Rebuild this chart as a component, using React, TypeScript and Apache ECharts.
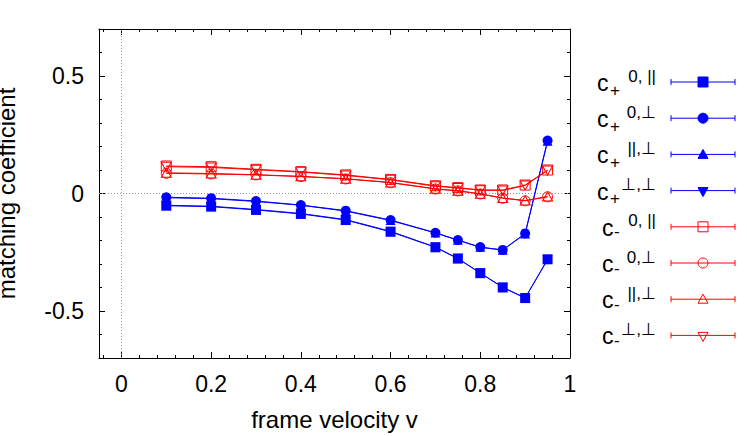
import React, { useEffect, useRef } from "react";
import * as echarts from "echarts";

// ---- data ----
const velocities = [0.1, 0.2, 0.3, 0.4, 0.5, 0.6, 0.7, 0.75, 0.8, 0.85, 0.9, 0.95];
const cPlus0Par = [-0.052, -0.056, -0.07, -0.087, -0.113, -0.163, -0.229, -0.277, -0.339, -0.4, -0.445, -0.28];
const cPlus0Perp = [-0.016, -0.02, -0.032, -0.049, -0.073, -0.113, -0.167, -0.198, -0.228, -0.24, -0.17, 0.225];
const cPlusParPerp = [-0.018, -0.022, -0.034, -0.05, -0.075, -0.115, -0.168, -0.199, -0.229, -0.241, -0.172, 0.222];
const cPlusPerpPerp = [-0.05, -0.054, -0.068, -0.085, -0.111, -0.161, -0.228, -0.276, -0.338, -0.399, -0.444, -0.282];
const cMinus0Par = [0.117, 0.114, 0.103, 0.093, 0.079, 0.06, 0.033, 0.025, 0.015, 0.015, 0.036, 0.1];
const cMinus0Perp = [0.086, 0.083, 0.079, 0.072, 0.062, 0.046, 0.019, 0.011, -0.002, -0.02, -0.031, -0.014];
const cMinusParPerp = [0.088, 0.085, 0.08, 0.073, 0.063, 0.047, 0.02, 0.012, -0.001, -0.019, -0.03, -0.013];
const cMinusPerpPerp = [0.114, 0.111, 0.101, 0.091, 0.077, 0.058, 0.031, 0.023, 0.014, 0.013, 0.034, 0.098];

const xMajorTicks = [0, 0.2, 0.4, 0.6, 0.8, 1];
const xMinorTicks = [-0.04, 0.04, 0.08, 0.12, 0.16, 0.24, 0.28, 0.32, 0.36, 0.44, 0.48, 0.52, 0.56, 0.64, 0.68, 0.72, 0.76, 0.84, 0.88, 0.92, 0.96];
const yMajorTicks = [-0.5, 0, 0.5];
const yMinorTicks = [-0.7, -0.6, -0.4, -0.3, -0.2, -0.1, 0.1, 0.2, 0.3, 0.4, 0.6, 0.7];

const legendSub = ["+", "+", "+", "+", "-", "-", "-", "-"];
const legendSup = ["0, ||", "0,\u22a5", "||,\u22a5", "\u22a5,\u22a5", "0, ||", "0,\u22a5", "||,\u22a5", "\u22a5,\u22a5"];

const BLUE = "#0000ff";
const RED = "#ff0000";
const FONT = "'Liberation Sans', Arial, Helvetica, sans-serif";

type Marker = "square" | "circle" | "up" | "down";
const seriesDefs: { data: number[]; color: string; marker: Marker; filled: boolean }[] = [
  { data: cPlus0Par, color: BLUE, marker: "square", filled: true },
  { data: cPlus0Perp, color: BLUE, marker: "circle", filled: true },
  { data: cPlusParPerp, color: BLUE, marker: "up", filled: true },
  { data: cPlusPerpPerp, color: BLUE, marker: "down", filled: true },
  { data: cMinus0Par, color: RED, marker: "square", filled: false },
  { data: cMinus0Perp, color: RED, marker: "circle", filled: false },
  { data: cMinusParPerp, color: RED, marker: "up", filled: false },
  { data: cMinusPerpPerp, color: RED, marker: "down", filled: false },
];

const XMIN = -0.05, XMAX = 1, YMIN = -0.7, YMAX = 0.7;

function xAxisDef(pos: "bottom" | "top", ticks: number[], len: number, main: boolean, labels: boolean): any {
  return {
    type: "value",
    position: pos,
    min: XMIN,
    max: XMAX,
    axisLine: { show: main, onZero: false, lineStyle: { color: "#000", width: 1 } },
    axisTick: { show: true, inside: true, length: len, customValues: ticks, lineStyle: { color: "#000", width: 1 } },
    axisLabel: labels
      ? { show: true, customValues: xMajorTicks, margin: 14, fontSize: 23, color: "#000", fontFamily: FONT }
      : { show: false },
    splitLine: { show: false },
    ...(labels
      ? {
          name: "frame velocity v",
          nameLocation: "middle",
          nameGap: 49,
          nameTextStyle: { fontSize: 24, color: "#000", fontFamily: FONT },
        }
      : {}),
  };
}

function yAxisDef(pos: "left" | "right", ticks: number[], len: number, main: boolean, labels: boolean): any {
  return {
    type: "value",
    position: pos,
    min: YMIN,
    max: YMAX,
    axisLine: { show: main, onZero: false, lineStyle: { color: "#000", width: 1 } },
    axisTick: { show: true, inside: true, length: len, customValues: ticks, lineStyle: { color: "#000", width: 1 } },
    axisLabel: labels
      ? { show: true, customValues: yMajorTicks, margin: 15, fontSize: 23, color: "#000", fontFamily: FONT }
      : { show: false },
    splitLine: { show: false },
    ...(labels
      ? {
          name: "matching coefficient",
          nameLocation: "middle",
          nameGap: 81,
          nameTextStyle: { fontSize: 24, color: "#000", fontFamily: FONT },
        }
      : {}),
  };
}

function symbolFor(m: Marker): { symbol: string; size: any; rotate: number } {
  if (m === "square") return { symbol: "rect", size: 10, rotate: 0 };
  if (m === "circle") return { symbol: "circle", size: 10, rotate: 0 };
  if (m === "up") return { symbol: "triangle", size: [10, 9], rotate: 0 };
  return { symbol: "triangle", size: [10, 9], rotate: 180 };
}

function legendMarker(m: Marker, filled: boolean, color: string, cx: number, cy: number): any {
  const style = filled
    ? { fill: color, stroke: color, lineWidth: 1 }
    : { fill: "none", stroke: color, lineWidth: 1 };
  if (m === "square") return { type: "rect", shape: { x: cx - 5, y: cy - 5, width: 10, height: 10 }, style };
  if (m === "circle") return { type: "circle", shape: { cx, cy, r: 5 }, style };
  if (m === "up")
    return { type: "polygon", shape: { points: [[cx - 5, cy + 4], [cx + 5, cy + 4], [cx, cy - 5]] }, style };
  return { type: "polygon", shape: { points: [[cx - 5, cy - 3], [cx + 5, cy - 3], [cx, cy + 6]] }, style };
}

export default function App() {
  const ref = useRef<HTMLDivElement>(null);
  useEffect(() => {
    if (!ref.current) return;
    const chart = echarts.init(ref.current, null, { renderer: "svg" });

    const series: any[] = seriesDefs.map((s, idx) => {
      const sym = symbolFor(s.marker);
      const out: any = {
        type: "line",
        data: velocities.map((v, i) => [v, s.data[i]]),
        xAxisIndex: 0,
        yAxisIndex: 0,
        symbol: sym.symbol,
        symbolSize: sym.size,
        symbolRotate: sym.rotate,
        showAllSymbol: true,
        lineStyle: { color: s.color, width: 1 },
        itemStyle: s.filled
          ? { color: s.color, borderColor: s.color, borderWidth: 0 }
          : { color: "rgba(0,0,0,0)", borderColor: s.color, borderWidth: 1 },
        z: 3,
      };
      if (idx === 0) {
        out.markLine = {
          silent: true,
          symbol: "none",
          label: { show: false },
          lineStyle: { color: "#999999", type: [1, 2], width: 1 },
          z: 1,
          data: [{ xAxis: 0 }, { yAxis: 0 }],
        };
      }
      return out;
    });

    const graphics: any[] = [];
    seriesDefs.forEach((s, i) => {
      const ly = 82 + i * 36.2;
      const isBlue = s.color === BLUE;
      graphics.push({
        type: "text",
        x: isBlue ? 597 : 602,
        y: ly + 1,
        style: { text: "c", fontSize: 23, fontFamily: FONT, fill: "#000", align: "left", verticalAlign: "middle" },
      });
      graphics.push({
        type: "text",
        x: isBlue ? 610 : 614,
        y: isBlue ? ly + 8 : ly + 5,
        style: { text: legendSub[i], fontSize: 17, fontFamily: FONT, fill: "#000", align: "left", verticalAlign: "middle" },
      });
      graphics.push({
        type: "text",
        x: 656,
        y: ly - 6,
        style: { text: legendSup[i], fontSize: 17, fontFamily: FONT, fill: "#000", align: "right", verticalAlign: "middle" },
      });
      graphics.push({ type: "line", shape: { x1: 671, y1: ly, x2: 735, y2: ly }, style: { stroke: s.color, lineWidth: 1 } });
      graphics.push({ type: "line", shape: { x1: 671, y1: ly - 3, x2: 671, y2: ly + 3 }, style: { stroke: s.color, lineWidth: 1 } });
      graphics.push({ type: "line", shape: { x1: 735, y1: ly - 3, x2: 735, y2: ly + 3 }, style: { stroke: s.color, lineWidth: 1 } });
      graphics.push(legendMarker(s.marker, s.filled, s.color, 703, ly));
    });

    chart.setOption({
      animation: false,
      backgroundColor: "#ffffff",
      textStyle: { fontFamily: FONT },
      grid: { left: 99, right: 177, top: 29, bottom: 78, containLabel: false, outerBoundsMode: "none" },
      xAxis: [
        xAxisDef("bottom", xMajorTicks, 6, true, true),
        xAxisDef("bottom", xMinorTicks, 3, false, false),
        xAxisDef("top", xMajorTicks, 6, true, false),
        xAxisDef("top", xMinorTicks, 3, false, false),
      ],
      yAxis: [
        yAxisDef("left", yMajorTicks, 6, true, true),
        yAxisDef("left", yMinorTicks, 3, false, false),
        yAxisDef("right", yMajorTicks, 6, true, false),
        yAxisDef("right", yMinorTicks, 3, false, false),
      ],
      series,
      graphic: graphics,
    });
    return () => chart.dispose();
  }, []);
  return (
    <div
      ref={ref}
      style={{ position: "fixed", left: 0, top: 0, width: 747, height: 436, background: "#fff" }}
    />
  );
}
